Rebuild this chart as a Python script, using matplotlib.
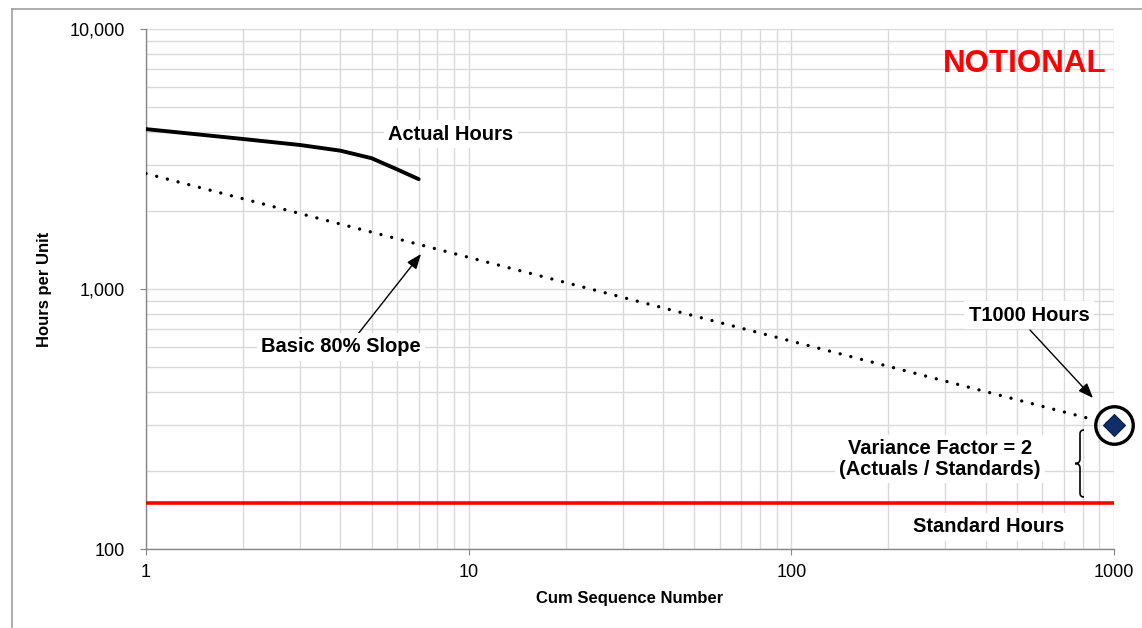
import matplotlib
matplotlib.use("Agg")
import matplotlib.pyplot as plt
from matplotlib.ticker import FuncFormatter, LogLocator, NullFormatter
from matplotlib.path import Path
from matplotlib.patches import PathPatch
from matplotlib.lines import Line2D

# ---- data ----
actual_units = [1, 2, 3, 4, 5, 6, 7]
actual_hours = [4120, 3775, 3580, 3405, 3185, 2885, 2645]
slope_units = [1, 1000]
slope_hours = [2780, 300]
standard_units = [1, 1000]
standard_hours = [150, 150]
t1000_unit = [1000]
t1000_hours = [300]
x_ticks = [1, 10, 100, 1000]
y_ticks = [100, 1000, 10000]

plt.rcParams['font.family'] = ['Liberation Sans', 'DejaVu Sans']

W, H = 1142, 628
fig = plt.figure(figsize=(W / 100, H / 100), dpi=100)
ax = fig.add_axes([146 / W, 1 - 549 / H, (1114 - 146) / W, (549 - 29) / H])

def fx(px):
    return px / W

def fy(py):
    return 1 - py / H

ax.set_xscale('log')
ax.set_yscale('log')
ax.set_xlim(1, 1000)
ax.set_ylim(100, 10000)

ax.xaxis.set_major_locator(LogLocator(base=10))
ax.yaxis.set_major_locator(LogLocator(base=10))
ax.xaxis.set_minor_locator(LogLocator(base=10, subs=range(2, 10)))
ax.yaxis.set_minor_locator(LogLocator(base=10, subs=range(2, 10)))
ax.set_xticks(x_ticks)
ax.set_yticks(y_ticks)
ax.xaxis.set_major_formatter(FuncFormatter(lambda v, p: f"{v:.0f}"))
ax.yaxis.set_major_formatter(FuncFormatter(lambda v, p: f"{v:,.0f}"))
ax.xaxis.set_minor_formatter(NullFormatter())
ax.yaxis.set_minor_formatter(NullFormatter())

ax.grid(True, which='both', color='#D9D9D9', lw=1.0)
ax.set_axisbelow(True)
for s in ['top', 'right']:
    ax.spines[s].set_visible(False)
for s in ['left', 'bottom']:
    ax.spines[s].set_color('#868686')
    ax.spines[s].set_linewidth(1.0)
ax.tick_params(which='major', length=4, color='#868686', labelsize=13, labelcolor='black')
ax.tick_params(axis='y', which='major', pad=11)
ax.tick_params(axis='x', which='major', pad=7)
ax.tick_params(which='minor', length=0)

# lines
ax.plot(standard_units, standard_hours, color='#FF0000', lw=2.6, solid_capstyle='butt', zorder=3)
ax.plot(slope_units, slope_hours, color='black', lw=2.4, linestyle=(0, (0.01, 3.3)),
        dash_capstyle='round', zorder=3)
ax.plot(actual_units, actual_hours, color='black', lw=2.8, solid_capstyle='round',
        solid_joinstyle='round', zorder=4)
ax.plot(t1000_unit, t1000_hours, marker='D', markersize=11, color='#0F2D69',
        markeredgecolor='#0A1E46', markeredgewidth=0.8, linestyle='none', zorder=5, clip_on=False)
ax.plot(t1000_unit, t1000_hours, marker='o', markersize=27, markerfacecolor='none',
        markeredgecolor='black', markeredgewidth=2.4, linestyle='none', zorder=5, clip_on=False)

bbox = dict(facecolor='white', edgecolor='none', pad=3)
fs = 14.5
fig.text(fx(1025), fy(64), 'NOTIONAL', color='#FF0000', fontsize=22.5, fontweight='bold',
         ha='center', va='center')
fig.text(fx(451), fy(134), 'Actual Hours', fontsize=fs, fontweight='bold', ha='center',
         va='center', bbox=bbox, zorder=6)
fig.text(fx(341), fy(347), 'Basic 80% Slope', fontsize=fs, fontweight='bold', ha='center',
         va='center', bbox=bbox, zorder=6)
fig.text(fx(1029), fy(315), 'T1000 Hours', fontsize=fs, fontweight='bold', ha='center',
         va='center', bbox=bbox, zorder=6)
fig.text(fx(940), fy(459), 'Variance Factor = 2\n(Actuals / Standards)', fontsize=fs,
         fontweight='bold', ha='center', va='center', linespacing=1.15, bbox=bbox, zorder=6)
fig.text(fx(989), fy(527), 'Standard Hours', fontsize=fs, fontweight='bold', ha='center',
         va='center', bbox=bbox, zorder=6)

arrowprops = dict(arrowstyle='-|>,head_length=0.9,head_width=0.35', color='black', lw=1.0,
                  shrinkA=0, shrinkB=0)
ax.annotate('', xy=(fx(421), fy(254)), xycoords='figure fraction',
            xytext=(fx(358), fy(334)), textcoords='figure fraction', arrowprops=arrowprops)
ax.annotate('', xy=(fx(1093), fy(398)), xycoords='figure fraction',
            xytext=(fx(1030), fy(330)), textcoords='figure fraction', arrowprops=arrowprops)

# brace
bx, tip = 1080, 1075
pts = [(1084, 430), (bx, 430), (bx, 434), (bx, 459), (bx, 463.5), (tip, 463.5),
       (bx, 463.5), (bx, 468), (bx, 493), (bx, 497), (1084, 497)]
codes = [Path.MOVETO, Path.CURVE3, Path.CURVE3, Path.LINETO, Path.CURVE3, Path.CURVE3,
         Path.CURVE3, Path.CURVE3, Path.LINETO, Path.CURVE3, Path.CURVE3]
path = Path([(fx(a), fy(b)) for a, b in pts], codes)
fig.add_artist(PathPatch(path, facecolor='none', edgecolor='black', lw=1.2,
                         transform=fig.transFigure))

# axis labels
fig.text(fx(630), fy(599), 'Cum Sequence Number', fontsize=12, fontweight='bold',
         ha='center', va='center')
fig.text(fx(45), fy(289), 'Hours per Unit', fontsize=12, fontweight='bold', ha='center',
         va='center', rotation=90)

# figure border
fig.add_artist(Line2D([fx(11.5), fx(11.5)], [0, fy(9)], color='#A0A0A0', lw=1.2,
                      transform=fig.transFigure))
fig.add_artist(Line2D([fx(11.5), 1], [fy(9), fy(9)], color='#A0A0A0', lw=1.2,
                      transform=fig.transFigure))

fig.savefig('out.png', dpi=100)
